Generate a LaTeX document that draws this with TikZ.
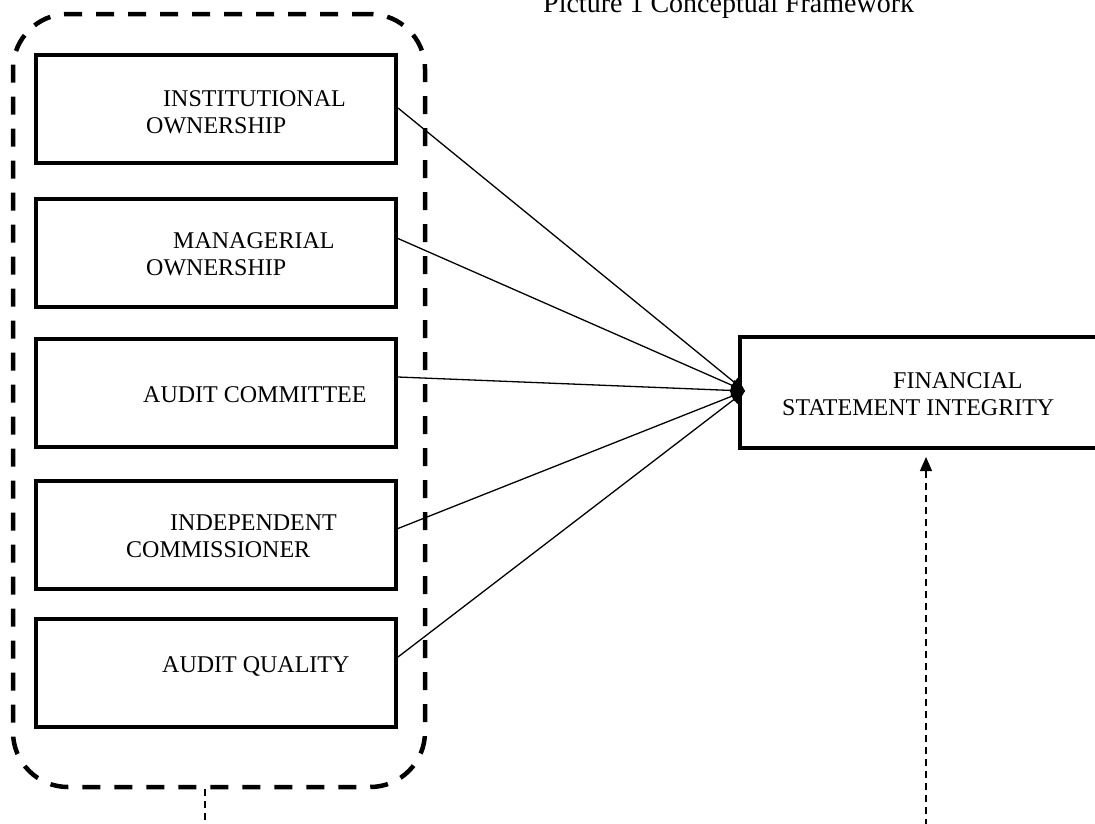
\documentclass[tikz,border=0pt]{standalone}
\usepackage{fontspec}
\setmainfont{Liberation Serif}
\usetikzlibrary{arrows.meta,calc}
\begin{document}
\begin{tikzpicture}[x=1pt,y=-1pt,
  varbox/.style={draw, line width=4pt, rectangle, inner sep=0pt, minimum width=360pt, minimum height=108pt},
  lbl/.style={anchor=base west, inner sep=0pt, font=\fontsize{24}{28}\selectfont},
  link/.style={line width=1.3pt, -{Triangle[length=14pt,width=11pt]}},
  grpbox/.style={draw, line width=4.5pt, dash pattern=on 18pt off 14pt, rounded corners=55pt, rectangle, inner sep=0pt, minimum width=412pt, minimum height=773pt},
  thindash/.style={line width=1.3pt, dash pattern=on 7pt off 5pt}]
\useasboundingbox (0,0) rectangle (1095,823);
\clip (0,0) rectangle (1095,823);
% title
\node[anchor=base west, inner sep=0pt, font=\fontsize{28}{32}\selectfont] (title) at (543,12) {Picture 1 Conceptual Framework};
% group
\node[grpbox] (grp) at (219,400.5) {};
% boxes
\node[varbox] (b1) at (216,109) {};
\node[varbox] (b2) at (216,252.5) {};
\node[varbox] (b3) at (216,393) {};
\node[varbox] (b4) at (216,534.5) {};
\node[varbox] (b5) at (216,673) {};
\node[draw, line width=4pt, rectangle, inner sep=0pt, minimum width=370pt, minimum height=111pt] (fin) at (925,392.5) {};
% labels
\node[lbl] (t1a) at (163,106) {INSTITUTIONAL};
\node[lbl] (t1b) at (146,133) {OWNERSHIP};
\node[lbl] (t2a) at (173,248) {MANAGERIAL};
\node[lbl] (t2b) at (146,275) {OWNERSHIP};
\node[lbl] (t3) at (143,402) {AUDIT COMMITTEE};
\node[lbl] (t4a) at (170,530) {INDEPENDENT};
\node[lbl] (t4b) at (126,557) {COMMISSIONER};
\node[lbl] (t5) at (162,672) {AUDIT QUALITY};
\node[lbl] (tfa) at (893,388) {FINANCIAL};
\node[lbl] (tfb) at (782,415) {STATEMENT INTEGRITY};
% connectors
\coordinate (hub) at (745,391);
\draw[link] ([yshift=1pt]b1.east) -- (hub);
\draw[link] ([yshift=14pt]b2.east) -- (hub);
\draw[link] ([yshift=16pt]b3.east) -- (hub);
\draw[link] ([yshift=6pt]b4.east) -- (hub);
\draw[link] ([yshift=16pt]b5.east) -- (hub);
% dashed feedback lines
\coordinate (lowL) at (205,850);
\coordinate (lowR) at (926,850);
\coordinate (finIn) at (926,457);
\draw[thindash] ([xshift=-14pt]grp.south) -- (lowL);
\draw[thindash, -{Triangle[length=14pt,width=12pt]}] (lowR) -- (finIn);
\end{tikzpicture}
\end{document}
